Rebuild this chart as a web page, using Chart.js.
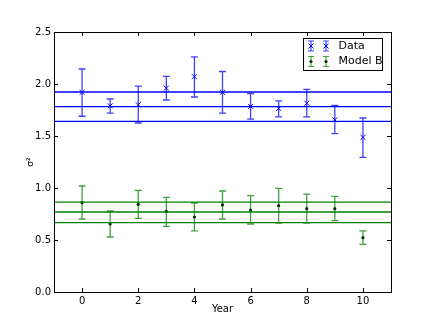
<!DOCTYPE html>
<html>
<head>
<meta charset="utf-8">
<script src="https://cdn.jsdelivr.net/npm/chart.js@4/dist/chart.umd.min.js"></script>
<style>
  body { margin: 0; background: #fff; }
  #wrap { width: 434px; height: 325px; }
</style>
</head>
<body>
<div id="wrap"><canvas id="chart" width="434" height="325"></canvas></div>
<script>
// --- Data ---
const years = [0, 1, 2, 3, 4, 5, 6, 7, 8, 9, 10];
const dataVals = [1.92, 1.79, 1.80, 1.96, 2.07, 1.92, 1.785, 1.765, 1.815, 1.655, 1.487];
const dataLow  = [1.69, 1.72, 1.625, 1.846, 1.875, 1.72, 1.663, 1.683, 1.683, 1.522, 1.295];
const dataHigh = [2.144, 1.856, 1.98, 2.074, 2.26, 2.12, 1.907, 1.837, 1.949, 1.795, 1.673];
const modelVals = [0.859, 0.654, 0.843, 0.776, 0.721, 0.837, 0.788, 0.83, 0.801, 0.801, 0.522];
const modelLow  = [0.702, 0.529, 0.708, 0.631, 0.587, 0.702, 0.654, 0.663, 0.663, 0.686, 0.458];
const modelHigh = [1.019, 0.779, 0.978, 0.91, 0.856, 0.971, 0.926, 0.997, 0.942, 0.92, 0.587];
const dataBand = [1.923, 1.782, 1.641];
const modelBand = [0.865, 0.769, 0.667];
const xRange = [-1, 11];
const xTicks = [0, 2, 4, 6, 8, 10];
const yTicks = [0, 0.5, 1.0, 1.5, 2.0, 2.5];

const BLUE = '#0000ff';
const GREEN = '#008000';
const FONT = { family: 'DejaVu Sans', size: 10 };

const pts = (vals) => years.map((x, i) => ({ x: x, y: vals[i] }));
const hline = (v) => [{ x: xRange[0], y: v }, { x: xRange[1], y: v }];

const datasets = [];
dataBand.forEach(v => datasets.push({
    type: 'line', data: hline(v), borderColor: BLUE, borderWidth: 1.3,
    pointRadius: 0, fill: false, errLow: null
}));
modelBand.forEach(v => datasets.push({
    type: 'line', data: hline(v), borderColor: GREEN, borderWidth: 1.3,
    pointRadius: 0, fill: false, errLow: null
}));
datasets.push({
    label: 'Data', type: 'scatter', data: pts(dataVals),
    pointStyle: 'crossRot', pointRadius: 3.5, borderColor: BLUE, borderWidth: 1,
    errLow: dataLow, errHigh: dataHigh, errColor: 'rgba(0,0,255,0.75)'
});
datasets.push({
    label: 'Model B', type: 'scatter', data: pts(modelVals),
    pointStyle: 'circle', pointRadius: 1.6, backgroundColor: '#0b2a0b', borderColor: '#0b2a0b', borderWidth: 0,
    errLow: modelLow, errHigh: modelHigh, errColor: 'rgba(0,128,0,0.75)'
});

// error bars, drawn under the markers
const errorBars = {
    id: 'errorBars',
    beforeDatasetsDraw(chart) {
        const { ctx, scales: { x, y } } = chart;
        ctx.save();
        ctx.lineWidth = 1.3;
        chart.data.datasets.forEach(ds => {
            if (!ds.errLow) return;
            ctx.strokeStyle = ds.errColor;
            years.forEach((yr, i) => {
                const px = x.getPixelForValue(yr);
                const lo = y.getPixelForValue(ds.errLow[i]);
                const hi = y.getPixelForValue(ds.errHigh[i]);
                ctx.beginPath();
                ctx.moveTo(px, lo); ctx.lineTo(px, hi);
                ctx.moveTo(px - 3.5, lo); ctx.lineTo(px + 3.5, lo);
                ctx.moveTo(px - 3.5, hi); ctx.lineTo(px + 3.5, hi);
                ctx.stroke();
            });
        });
        ctx.restore();
    }
};

// frame, inward ticks and the legend box
const frame = {
    id: 'frame',
    afterDraw(chart) {
        const { ctx, chartArea: a, scales: { x, y } } = chart;
        ctx.save();
        ctx.strokeStyle = '#000';
        ctx.lineWidth = 1;
        ctx.beginPath();
        xTicks.forEach(v => {
            const px = Math.round(x.getPixelForValue(v)) + 0.5;
            ctx.moveTo(px, a.bottom); ctx.lineTo(px, a.bottom - 4);
            ctx.moveTo(px, a.top); ctx.lineTo(px, a.top + 4);
        });
        yTicks.forEach(v => {
            const py = Math.round(y.getPixelForValue(v)) + 0.5;
            ctx.moveTo(a.left, py); ctx.lineTo(a.left + 4, py);
            ctx.moveTo(a.right, py); ctx.lineTo(a.right - 4, py);
        });
        ctx.stroke();
        ctx.strokeRect(Math.round(a.left) + 0.5, Math.round(a.top) + 0.5,
            Math.round(a.right - a.left), Math.round(a.bottom - a.top));

        // legend
        const bx = 303.5, by = 38.5, bw = 79, bh = 32;
        ctx.fillStyle = '#fff';
        ctx.fillRect(bx, by, bw, bh);
        ctx.strokeRect(bx, by, bw, bh);
        const entries = chart.data.datasets.filter(d => d.label);
        entries.forEach((ds, k) => {
            const cy = 46 + k * 15.5;
            [311, 326].forEach(cx => {
                ctx.strokeStyle = ds.errColor;
                ctx.lineWidth = 1.2;
                ctx.beginPath();
                ctx.moveTo(cx, cy - 5); ctx.lineTo(cx, cy + 5);
                ctx.moveTo(cx - 3, cy - 5); ctx.lineTo(cx + 3, cy - 5);
                ctx.moveTo(cx - 3, cy + 5); ctx.lineTo(cx + 3, cy + 5);
                ctx.stroke();
                ctx.beginPath();
                if (ds.pointStyle === 'crossRot') {
                    ctx.strokeStyle = BLUE;
                    ctx.lineWidth = 1;
                    ctx.moveTo(cx - 2.5, cy - 2.5); ctx.lineTo(cx + 2.5, cy + 2.5);
                    ctx.moveTo(cx - 2.5, cy + 2.5); ctx.lineTo(cx + 2.5, cy - 2.5);
                    ctx.stroke();
                } else {
                    ctx.fillStyle = ds.backgroundColor;
                    ctx.arc(cx, cy, 1.6, 0, Math.PI * 2);
                    ctx.fill();
                }
            });
            ctx.fillStyle = '#000';
            ctx.font = '11px "DejaVu Sans"';
            ctx.textBaseline = 'middle';
            ctx.fillText(ds.label, 338.5, cy);
        });
        ctx.restore();
    }
};

new Chart(document.getElementById('chart').getContext('2d'), {
    type: 'scatter',
    data: { datasets: datasets },
    options: {
        responsive: false,
        animation: false,
        layout: { padding: { left: 0, top: 32, right: 43, bottom: 0 } },
        plugins: { legend: { display: false }, tooltip: { enabled: false } },
        scales: {
            x: {
                type: 'linear', min: xRange[0], max: xRange[1],
                afterBuildTicks: s => { s.ticks = xTicks.map(v => ({ value: v })); },
                afterFit: s => { s.height = 33; },
                grid: { display: false, drawTicks: false },
                border: { display: false },
                ticks: { font: FONT, color: '#000', padding: 3 },
                title: { display: true, text: 'Year', font: FONT, color: '#000', padding: { top: 0, bottom: 10 } }
            },
            y: {
                min: 0, max: 2.5,
                afterBuildTicks: s => { s.ticks = yTicks.map(v => ({ value: v })); },
                afterFit: s => { s.width = 54; },
                grid: { display: false, drawTicks: false },
                border: { display: false },
                ticks: { font: FONT, color: '#000', padding: 3, callback: v => v.toFixed(1) },
                title: { display: true, text: 'σ²', font: { family: 'DejaVu Sans', size: 9 }, color: '#000', padding: { top: 25, bottom: 0 } }
            }
        }
    },
    plugins: [errorBars, frame]
});
</script>
</body>
</html>
